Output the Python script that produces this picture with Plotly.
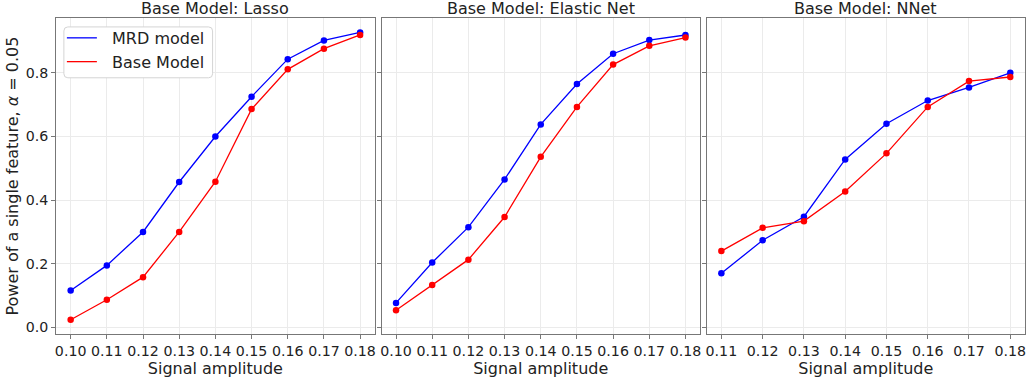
import plotly.graph_objects as go

# Signal amplitudes tested per base model
amp_lasso = [0.10, 0.11, 0.12, 0.13, 0.14, 0.15, 0.16, 0.17, 0.18]
amp_enet = [0.10, 0.11, 0.12, 0.13, 0.14, 0.15, 0.16, 0.17, 0.18]
amp_nnet = [0.11, 0.12, 0.13, 0.14, 0.15, 0.16, 0.17, 0.18]

# Power of a single feature at alpha = 0.05
lasso_mrd = [0.116, 0.195, 0.300, 0.457, 0.600, 0.725, 0.843, 0.902, 0.927]
lasso_base = [0.024, 0.087, 0.158, 0.300, 0.458, 0.686, 0.811, 0.876, 0.919]
enet_mrd = [0.077, 0.204, 0.315, 0.465, 0.638, 0.765, 0.860, 0.903, 0.919]
enet_base = [0.054, 0.133, 0.213, 0.347, 0.536, 0.693, 0.826, 0.885, 0.911]
nnet_mrd = [0.170, 0.274, 0.348, 0.528, 0.640, 0.713, 0.754, 0.800]
nnet_base = [0.240, 0.313, 0.334, 0.427, 0.547, 0.693, 0.774, 0.787]

panel_titles = ["Base Model: Lasso", "Base Model: Elastic Net", "Base Model: NNet"]
series_names = ["MRD model", "Base Model"]
series_colors = ["#0000ff", "#ff0000"]
y_ticks = [0.0, 0.2, 0.4, 0.6, 0.8]

W, H = 1030, 379
FONT = "DejaVu Sans"
TXT = "#222222"
panels = [
    (amp_lasso, lasso_mrd, lasso_base, [55.3, 374.3]),
    (amp_enet, enet_mrd, enet_base, [381.3, 700.3]),
    (amp_nnet, nnet_mrd, nnet_base, [707.3, 1025.7]),
]
y_dom = [1 - 335 / H, 1 - 18 / H]

fig = go.Figure()
layout = {}
annotations = []
for i, (xs, mrd, base, px) in enumerate(panels):
    n = "" if i == 0 else str(i + 1)
    xa, ya = "x" + n, "y" + n
    for vals, color in zip([mrd, base], series_colors):
        fig.add_trace(go.Scatter(
            x=xs, y=vals, mode="lines+markers", xaxis=xa, yaxis=ya,
            line=dict(color=color, width=1.3),
            marker=dict(color=color, size=6.5), showlegend=False,
        ))
    span = xs[-1] - xs[0]
    layout["xaxis" + n] = dict(
        domain=[px[0] / W, px[1] / W], anchor=ya,
        range=[xs[0] - 0.05 * span, xs[-1] + 0.05 * span],
        tickvals=xs, ticktext=[f"{v:.2f}" for v in xs],
        ticks="outside", ticklen=4, tickcolor="#777777",
        showline=True, mirror=True, linecolor="#777777", linewidth=1,
        showgrid=True, gridcolor="#ebebeb", gridwidth=1, zeroline=False,
        tickfont=dict(family=FONT, size=14.2, color=TXT),
        title=dict(text="Signal amplitude", standoff=4,
                   font=dict(family=FONT, size=16, color=TXT)),
    )
    layout["yaxis" + n] = dict(
        domain=y_dom, anchor=xa, range=[-0.021, 0.9725],
        tickvals=y_ticks, ticktext=[f"{v:.1f}" for v in y_ticks],
        ticks="outside", ticklen=4, tickcolor="#777777",
        showticklabels=(i == 0),
        showline=True, mirror=True, linecolor="#777777", linewidth=1,
        showgrid=True, gridcolor="#ebebeb", gridwidth=1, zeroline=False,
        tickfont=dict(family=FONT, size=14.2, color=TXT),
    )
    annotations.append(dict(
        text=panel_titles[i], xref="paper", yref="paper",
        x=(px[0] + px[1]) / 2 / W, y=1 - 9 / H, xanchor="center", yanchor="middle",
        showarrow=False, font=dict(family=FONT, size=16, color=TXT),
    ))

layout["yaxis"]["title"] = dict(
    text="Power of a single feature, <i>α</i> = 0.05", standoff=3,
    font=dict(family=FONT, size=16, color=TXT),
)

# Legend entries show the line style only
for name, color in zip(series_names, series_colors):
    fig.add_trace(go.Scatter(x=[None], y=[None], mode="lines",
                             name="\u00a0\u00a0" + name,
                             line=dict(color=color, width=1.3)))

# Rounded frame behind the legend
bx0, bx1, by0, by1, r = 63, 212, 27, 78, 4
frame_path = (
    f"M{(bx0 + r) / W},{1 - by0 / H} L{(bx1 - r) / W},{1 - by0 / H} "
    f"Q{bx1 / W},{1 - by0 / H} {bx1 / W},{1 - (by0 + r) / H} "
    f"L{bx1 / W},{1 - (by1 - r) / H} "
    f"Q{bx1 / W},{1 - by1 / H} {(bx1 - r) / W},{1 - by1 / H} "
    f"L{(bx0 + r) / W},{1 - by1 / H} "
    f"Q{bx0 / W},{1 - by1 / H} {bx0 / W},{1 - (by1 - r) / H} "
    f"L{bx0 / W},{1 - (by0 + r) / H} "
    f"Q{bx0 / W},{1 - by0 / H} {(bx0 + r) / W},{1 - by0 / H} Z"
)

fig.update_layout(
    width=W, height=H, margin=dict(l=0, r=0, t=0, b=0),
    paper_bgcolor="white", plot_bgcolor="white",
    annotations=annotations,
    shapes=[dict(type="path", path=frame_path, xref="paper", yref="paper",
                 line=dict(color="#d4d4d4", width=1), fillcolor="white",
                 layer="above")],
    legend=dict(x=61 / W, y=1 - 21 / H, xanchor="left", yanchor="top",
                bgcolor="rgba(0,0,0,0)", borderwidth=0,
                font=dict(family=FONT, size=16, color=TXT),
                itemwidth=30, tracegroupgap=0),
    **layout,
)

fig.write_html("out.html")
